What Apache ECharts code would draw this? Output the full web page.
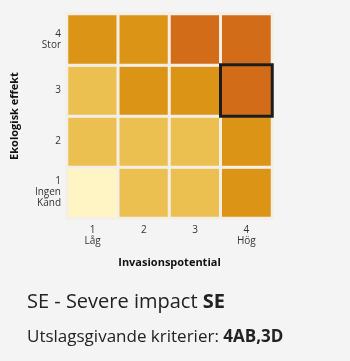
<!DOCTYPE html>
<html>
<head>
<meta charset="utf-8">
<script src="https://cdn.jsdelivr.net/npm/echarts@6/dist/echarts.min.js"></script>
<style>
html,body{margin:0;padding:0;background:#f4f4f4;}
#c{width:350px;height:361px;}
</style>
</head>
<body>
<div id="c"></div>
<script>
// Categories
const xCategories = ['1\nLåg', '2', '3', '4\nHög'];
const yCategories = ['1\nIngen\nKänd', '2', '3', '4\nStor'];
// Severity level per cell, rows from y=1 (bottom) to y=4 (top), columns x=1..4
const row1 = [0, 1, 1, 2];
const row2 = [1, 1, 1, 2];
const row3 = [1, 2, 2, 3];
const row4 = [2, 2, 3, 3];
const levelRows = [row1, row2, row3, row4];
const levelColors = ['#fff4c4', '#ecc050', '#dc9416', '#d36c19'];
// Selected cell [xIndex, yIndex]
const selectedCell = [3, 2];
const titleMain = 'SE - Severe impact ';
const titleMainBold = 'SE';
const titleSub = 'Utslagsgivande kriterier: ';
const titleSubBold = '4AB,3D';
const xAxisName = 'Invasionspotential';
const yAxisName = 'Ekologisk effekt';

const data = [];
levelRows.forEach((row, yi) => {
  row.forEach((v, xi) => {
    if (xi === selectedCell[0] && yi === selectedCell[1]) return;
    data.push([xi, yi, v]);
  });
});
const sv = levelRows[selectedCell[1]][selectedCell[0]];
data.push({
  value: [selectedCell[0], selectedCell[1], sv],
  itemStyle: { borderColor: '#1c1c1c', borderWidth: 3 }
});

const font = 'Open Sans';
const chart = echarts.init(document.getElementById('c'), null, { renderer: 'canvas' });
chart.setOption({
  backgroundColor: '#f4f4f4',
  textStyle: { fontFamily: font },
  animation: false,
  title: [
    {
      left: 22, top: 284,
      text: '{n|' + titleMain + '}{b|' + titleMainBold + '}',
      textStyle: {
        rich: {
          n: { fontFamily: font, fontSize: 20, color: '#222', fontWeight: 'normal', lineHeight: 26 },
          b: { fontFamily: font, fontSize: 20, color: '#222', fontWeight: 'bold', lineHeight: 26 }
        }
      }
    },
    {
      left: 22, top: 321,
      text: '{n|' + titleSub + '}{b|' + titleSubBold + '}',
      textStyle: {
        rich: {
          n: { fontFamily: font, fontSize: 17, color: '#222', fontWeight: 'normal', lineHeight: 22 },
          b: { fontFamily: font, fontSize: 17, color: '#222', fontWeight: 'bold', lineHeight: 22 }
        }
      }
    }
  ],
  grid: { left: 67, right: 78, top: 14, bottom: 143, containLabel: false, outerBoundsMode: 'none' },
  xAxis: {
    type: 'category',
    data: xCategories,
    name: xAxisName,
    nameLocation: 'middle',
    nameGap: 39,
    nameTextStyle: { fontFamily: font, fontSize: 11, fontWeight: 'bold', color: '#111' },
    axisLine: { show: false },
    axisTick: { show: false },
    splitArea: { show: false },
    axisLabel: { fontSize: 10, color: '#333', lineHeight: 11, margin: 7, fontFamily: font }
  },
  yAxis: {
    type: 'category',
    data: yCategories,
    name: yAxisName,
    nameLocation: 'middle',
    nameRotate: 90,
    nameGap: 47,
    nameTextStyle: { fontFamily: font, fontSize: 11, fontWeight: 'bold', color: '#111' },
    axisLine: { show: false },
    axisTick: { show: false },
    splitArea: { show: false },
    axisLabel: { fontSize: 10, color: '#333', lineHeight: 11, margin: 6, fontFamily: font }
  },
  visualMap: {
    show: false,
    type: 'piecewise',
    dimension: 2,
    pieces: levelColors.map((c, i) => ({ value: i, color: c }))
  },
  series: [{
    type: 'heatmap',
    data: data,
    itemStyle: { borderColor: '#f3efe6', borderWidth: 3 },
    emphasis: { disabled: true },
    label: { show: false }
  }]
});
</script>
</body>
</html>
